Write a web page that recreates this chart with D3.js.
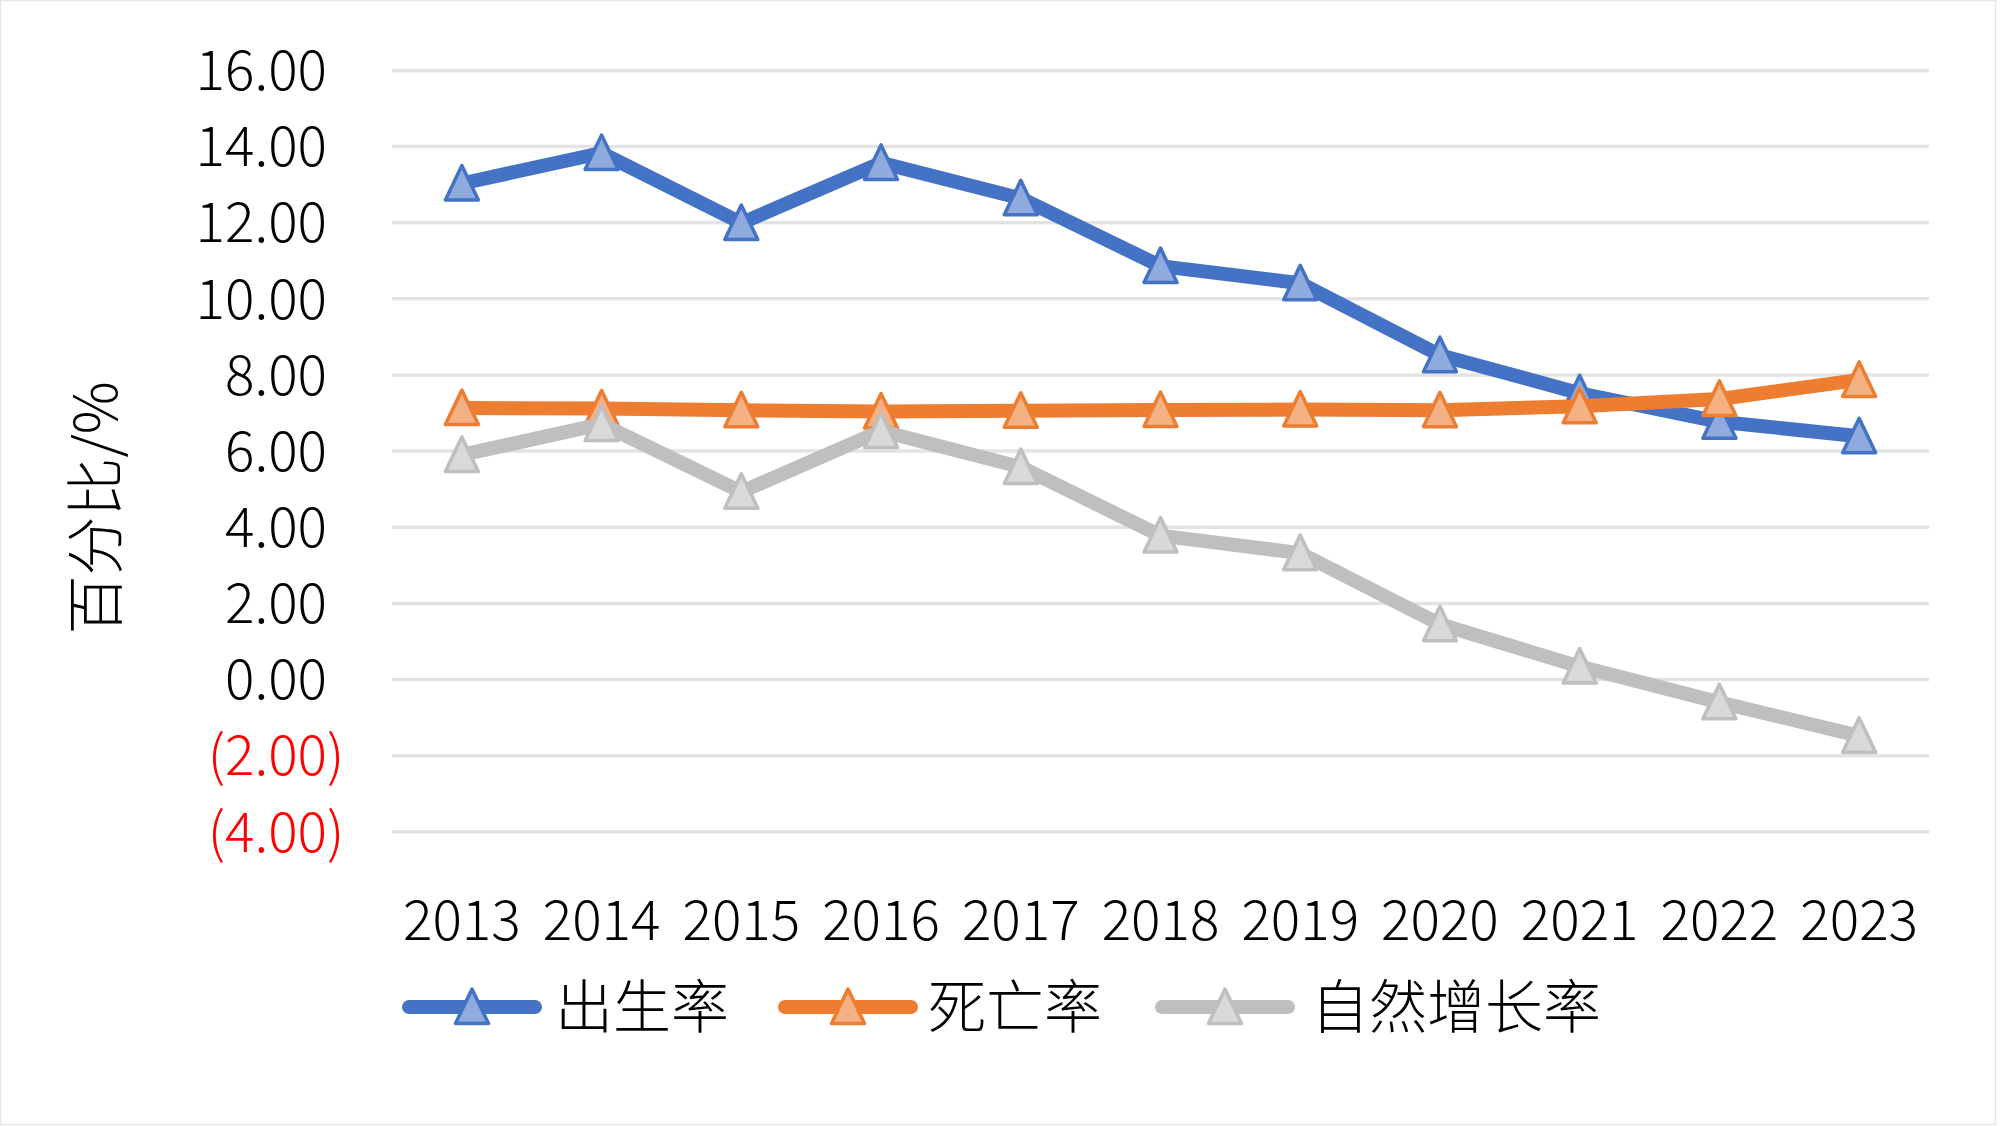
<!DOCTYPE html>
<html><head><meta charset="utf-8">
<script src="https://cdn.jsdelivr.net/npm/d3@7"></script>
<style>
html,body{margin:0;padding:0;background:#fff;}
svg{display:block;}
text{font-family:"Noto Sans CJK SC","Noto Sans",sans-serif;font-weight:300;}
</style></head>
<body>
<svg id="chart" width="2000" height="1126"></svg>
<script>
const years = ["2013","2014","2015","2016","2017","2018","2019","2020","2021","2022","2023"];
const birthRate = [13.03,13.83,11.99,13.57,12.64,10.86,10.41,8.52,7.52,6.77,6.39];
const deathRate = [7.13,7.12,7.07,7.04,7.06,7.08,7.09,7.07,7.18,7.37,7.87];
const growthRate = [5.90,6.71,4.93,6.53,5.58,3.78,3.32,1.45,0.34,-0.60,-1.48];
const seriesNames = ["出生率","死亡率","自然增长率"];
const yTicks = [-4,-2,0,2,4,6,8,10,12,14,16];
const yTitle = "百分比/%";

const colors = [
  {line:"#4472C4", fill:"#8FAADC"},
  {line:"#ED7D31", fill:"#F4B183"},
  {line:"#BFBFBF", fill:"#D9D9D9"}
];
const seriesValues = [birthRate, deathRate, growthRate];

const svg = d3.select("#chart");
svg.append("rect").attr("x",0.5).attr("y",0.5).attr("width",1995).attr("height",1124)
  .attr("fill","#fff").attr("stroke","#e6e6e6").attr("stroke-width",1.5);

const plotL = 392, plotR = 1929;
const x = d3.scaleBand().domain(years).range([plotL, plotR]);
const xc = d => x(d) + x.bandwidth()/2;
const y = d3.scaleLinear().domain([-4,16]).range([831.8, 70.4]);

// gridlines
svg.append("g").selectAll("line").data(yTicks).join("line")
  .attr("x1", plotL).attr("x2", plotR)
  .attr("y1", d => y(d)).attr("y2", d => y(d))
  .attr("stroke","#e3e3e3").attr("stroke-width",3.5);

// y labels
const fmt = d3.format(".2f");
const tickFont = 55;
const yLab = svg.append("g");
yTicks.forEach(t => {
  const neg = t < 0;
  const txt = yLab.append("text")
    .attr("y", y(t)).attr("dy","0.36em")
    .attr("text-anchor","end")
    .attr("font-size",tickFont)
    .attr("fill", neg ? "#FF0000" : "#000")
    .text(neg ? "(" + fmt(-t) + ")" : fmt(t));
  let xr = 327;
  if (neg) {
    const tmp = yLab.append("text").attr("font-size",tickFont).text(")");
    xr += tmp.node().getComputedTextLength();
    tmp.remove();
  }
  txt.attr("x", xr);
});

// y title
svg.append("text")
  .attr("transform","translate(96,508) rotate(-90)")
  .attr("text-anchor","middle").attr("dy","0.36em")
  .attr("font-size",59).attr("fill","#000")
  .text(yTitle);

// x labels
svg.append("g").selectAll("text").data(years).join("text")
  .attr("x", d => xc(d)).attr("y", 920).attr("dy","0.36em")
  .attr("text-anchor","middle").attr("font-size",tickFont).attr("fill","#000")
  .text(d => d);

// triangle marker path
const tri = (cx, cy) => {
  const hw = 16.5, h = 33;
  return `M${cx},${cy - h/2 - 1.5} L${cx + hw},${cy + h/2} L${cx - hw},${cy + h/2} Z`;
};

const lineGen = d3.line().x((d,i) => xc(years[i])).y(d => y(d));

seriesValues.forEach((vals, si) => {
  const g = svg.append("g");
  g.append("path").datum(vals).attr("d", lineGen)
    .attr("fill","none").attr("stroke", colors[si].line)
    .attr("stroke-width",14).attr("stroke-linejoin","round").attr("stroke-linecap","round");
  g.selectAll("path.m").data(vals).join("path").attr("class","m")
    .attr("d", (d,i) => tri(xc(years[i]), y(d)))
    .attr("fill", colors[si].fill).attr("stroke", colors[si].line)
    .attr("stroke-width",3.5).attr("stroke-linejoin","round");
});

// legend
const legendItems = [
  {x1:402, x2:542, tx:555},
  {x1:778, x2:918, tx:928},
  {x1:1155, x2:1295, tx:1311}
];
const ly = 1007;
legendItems.forEach((it, i) => {
  const g = svg.append("g");
  g.append("line").attr("x1", it.x1 + 7).attr("x2", it.x2 - 7).attr("y1", ly).attr("y2", ly)
    .attr("stroke", colors[i].line).attr("stroke-width",14).attr("stroke-linecap","round");
  g.append("path").attr("d", tri((it.x1 + it.x2)/2, ly))
    .attr("fill", colors[i].fill).attr("stroke", colors[i].line)
    .attr("stroke-width",3.5).attr("stroke-linejoin","round");
  g.append("text").attr("x", it.tx).attr("y", ly).attr("dy","0.36em")
    .attr("font-size",58).attr("fill","#000").text(seriesNames[i]);
});
</script>
</body></html>
